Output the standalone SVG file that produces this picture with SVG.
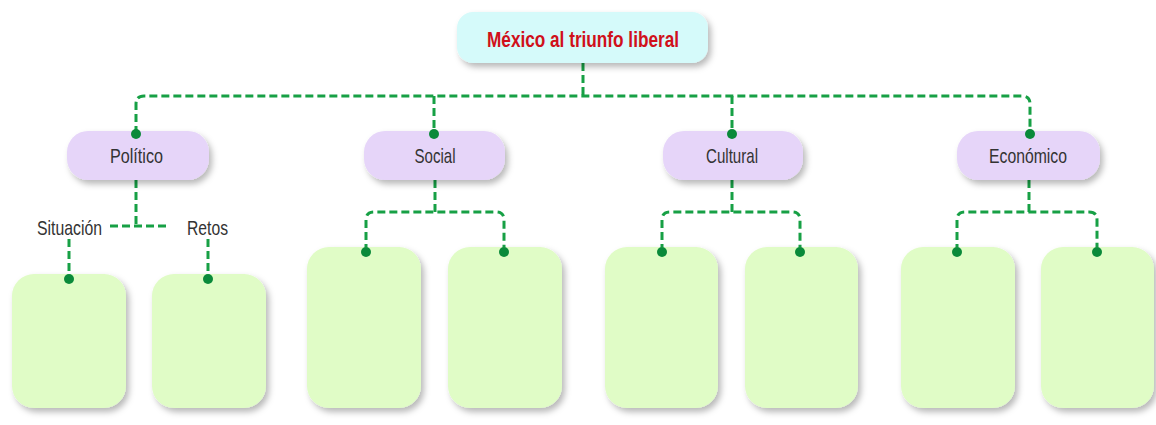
<svg xmlns="http://www.w3.org/2000/svg" width="1156" height="425" viewBox="0 0 1156 425">
<style>
.conn{fill:none;stroke:#17a045;stroke-width:3;stroke-dasharray:8 4}
.dot{fill:#0a8a3a}
.cat{fill:#e6d5f9;filter:url(#sh)}
.box{fill:#e0fcc6;filter:url(#sh)}
.root{fill:#d5fafa;filter:url(#sh)}
.lbl{font-family:"Liberation Sans",Arial,sans-serif;font-size:21px;fill:#333;text-anchor:middle}
.title{font-family:"Liberation Sans",Arial,sans-serif;font-size:22px;font-weight:bold;fill:#d0101a;text-anchor:middle}
</style>
<defs>
<filter id="sh" x="-20%" y="-20%" width="150%" height="150%">
<feDropShadow dx="3" dy="4" stdDeviation="3" flood-color="#000" flood-opacity="0.28"/>
</filter>
</defs>
<rect width="1156" height="425" fill="#ffffff"/>
<g id="connectors">
<path class="conn" d="M583,63 V96"/>
<path class="conn" d="M136,134 V104 Q136,96 144,96 H1022 Q1030,96 1030,104 V134"/>
<path class="conn" d="M434,96 V134"/>
<path class="conn" d="M732,96 V134"/>
<path class="conn" d="M136,180 V226"/>
<path class="conn" d="M110,226 H166"/>
<path class="conn" d="M69,239 V279"/>
<path class="conn" d="M208,239 V279"/>
<path class="conn" d="M435,180 V212"/>
<path class="conn" d="M366,252 V220 Q366,212 374,212 H496 Q504,212 504,220 V252"/>
<path class="conn" d="M732,180 V212"/>
<path class="conn" d="M662,252 V220 Q662,212 670,212 H792 Q800,212 800,220 V252"/>
<path class="conn" d="M1029,180 V212"/>
<path class="conn" d="M957,252 V220 Q957,212 965,212 H1089 Q1097,212 1097,220 V252"/>
</g>
<g id="root"><rect class="root" x="457" y="12" width="251" height="51" rx="16"/><text class="title" x="583" y="47" textLength="192" lengthAdjust="spacingAndGlyphs">México al triunfo liberal</text></g>
<g id="politico"><rect class="cat" x="67" y="131" width="142" height="49" rx="21"/><text class="lbl" x="136.5" y="163" textLength="53" lengthAdjust="spacingAndGlyphs">Político</text></g>
<g id="social"><rect class="cat" x="364" y="131" width="141" height="49" rx="21"/><text class="lbl" x="435" y="163" textLength="41" lengthAdjust="spacingAndGlyphs">Social</text></g>
<g id="cultural"><rect class="cat" x="663" y="131" width="140" height="49" rx="21"/><text class="lbl" x="732" y="163" textLength="52" lengthAdjust="spacingAndGlyphs">Cultural</text></g>
<g id="economico"><rect class="cat" x="957" y="131" width="143" height="49" rx="21"/><text class="lbl" x="1028" y="163" textLength="78" lengthAdjust="spacingAndGlyphs">Económico</text></g>
<g id="situacion"><text class="lbl" x="69.5" y="235" textLength="65" lengthAdjust="spacingAndGlyphs">Situación</text></g>
<g id="retos"><text class="lbl" x="207.5" y="235" textLength="41" lengthAdjust="spacingAndGlyphs">Retos</text></g>
<g id="box-p1"><rect class="box" x="12" y="274" width="114" height="134" rx="22"/></g>
<g id="box-p2"><rect class="box" x="152" y="274" width="114" height="134" rx="22"/></g>
<g id="box-s1"><rect class="box" x="307" y="247" width="114" height="161" rx="22"/></g>
<g id="box-s2"><rect class="box" x="448" y="247" width="114" height="161" rx="22"/></g>
<g id="box-c1"><rect class="box" x="605" y="247" width="113" height="161" rx="22"/></g>
<g id="box-c2"><rect class="box" x="745" y="247" width="113" height="161" rx="22"/></g>
<g id="box-e1"><rect class="box" x="901" y="247" width="114" height="161" rx="22"/></g>
<g id="box-e2"><rect class="box" x="1041" y="247" width="113" height="161" rx="22"/></g>
<g id="dots">
<circle class="dot" cx="136" cy="134" r="5"/>
<circle class="dot" cx="434" cy="134" r="5"/>
<circle class="dot" cx="732" cy="134" r="5"/>
<circle class="dot" cx="1030" cy="134" r="5"/>
<circle class="dot" cx="69" cy="279" r="5"/>
<circle class="dot" cx="208" cy="279" r="5"/>
<circle class="dot" cx="366" cy="252" r="5"/>
<circle class="dot" cx="504" cy="252" r="5"/>
<circle class="dot" cx="662" cy="252" r="5"/>
<circle class="dot" cx="800" cy="252" r="5"/>
<circle class="dot" cx="957" cy="252" r="5"/>
<circle class="dot" cx="1097" cy="252" r="5"/>
</g>
</svg>
